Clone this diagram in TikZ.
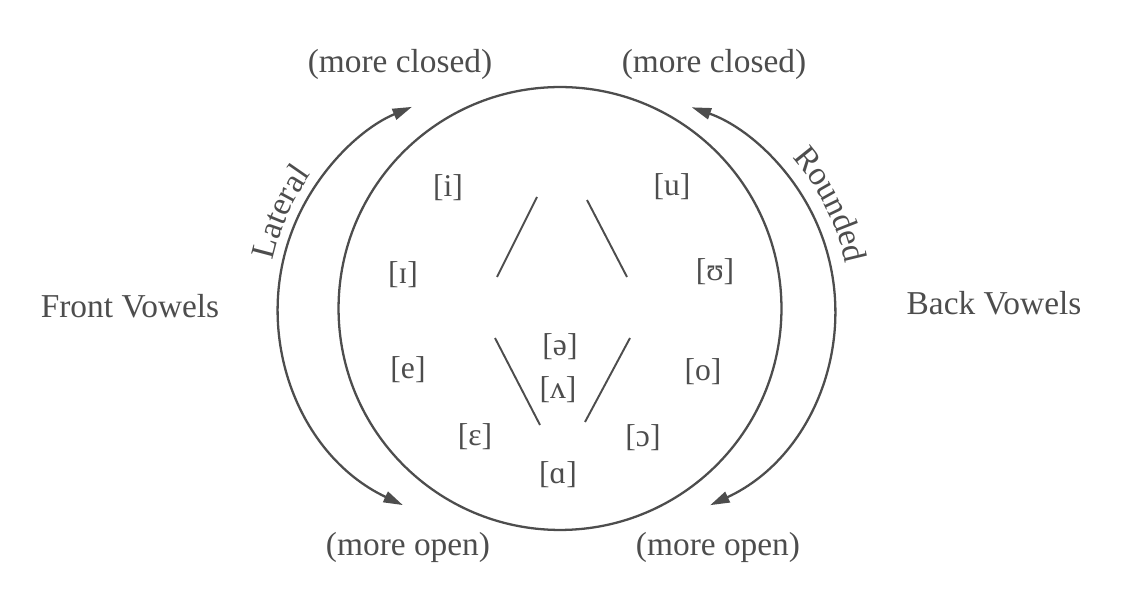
\documentclass[tikz,border=0pt]{standalone}
\usepackage{fontspec}
\setmainfont{Liberation Serif}
\usepackage{xcolor}
\usetikzlibrary{arrows.meta, calc, decorations.text}

\definecolor{ink}{HTML}{4D4D4D}

\begin{document}
\begin{tikzpicture}[
    x=0.02cm, y=0.02cm,
    font=\fontsize{19}{22}\selectfont,
    lbl/.style={text=ink, inner sep=0pt},
    vow/.style={text=ink, inner sep=0pt, font=\fontsize{18}{21}\selectfont},
    ring/.style={draw=ink, line width=1.3pt, circle, minimum size=8.86cm, inner sep=0pt},
    swing/.style={draw=ink, line width=1.3pt, {Triangle[length=11pt,width=6.5pt]}-{Triangle[length=11pt,width=6.5pt]}},
    bar/.style={draw=ink, line width=1.1pt}
]
\useasboundingbox (0,0) rectangle (1121,588);

% the vowel circle
\node[ring] (oval) at (560,279.5) {};

% arcs on both sides
\coordinate (lc) at (496,280);
\coordinate (rc) at (620,278);
\draw[swing] ($(lc)+(244.7:218)$) arc[start angle=244.7, end angle=112.7, radius=218];
\draw[swing] ($(rc)+(-65.2:215)$) arc[start angle=-65.2, end angle=70.5, radius=215];

\path[decorate, decoration={text along path, text align=center, text color=ink,
    text={|\fontsize{19}{22}\selectfont|Lateral}}]
    ($(lc)+(172:228)$) arc[start angle=172, end angle=140, radius=228];
\path[decorate, decoration={text along path, text align=center, text color=ink,
    text={|\fontsize{19}{22}\selectfont|Rounded}}]
    ($(rc)+(46:230)$) arc[start angle=46, end angle=7, radius=230];

% side and end labels
\node[lbl] (front) at (130,282) {Front Vowels};
\node[lbl] (back) at (994,284.5) {Back Vowels};
\node[lbl] (lclosed) at (400,524) {(more closed)};
\node[lbl] (rclosed) at (714,524) {(more closed)};
\node[lbl] (lopen) at (408,41) {(more open)};
\node[lbl] (ropen) at (718,41) {(more open)};

% vowels
\node[vow] (vi) at (448,400) {[i]};
\node[vow] (vI) at (403,313) {[ɪ]};
\node[vow] (ve) at (408,218) {[e]};
\node[vow] (vE) at (475,151) {[ɛ]};
\node[vow] (vschwa) at (560,241) {[ə]};
\node[vow] (vwedge) at (558,198) {[ʌ]};
\node[vow] (va) at (558,113) {[ɑ]};
\node[vow] (vu) at (672,401) {[u]};
\node[vow] (vU) at (715,316) {[ʊ]};
\node[vow] (vo) at (703,216) {[o]};
\node[vow] (vO) at (643,150) {[ɔ]};

% inner strokes
\coordinate (ul1) at (497,311); \coordinate (ul2) at (537,391);
\coordinate (ur1) at (587,388); \coordinate (ur2) at (627,311);
\coordinate (ll1) at (495,250); \coordinate (ll2) at (540,163);
\coordinate (lr1) at (630,250); \coordinate (lr2) at (585,166);
\draw[bar] (ul1) -- (ul2);
\draw[bar] (ur1) -- (ur2);
\draw[bar] (ll1) -- (ll2);
\draw[bar] (lr1) -- (lr2);
\end{tikzpicture}
\end{document}
